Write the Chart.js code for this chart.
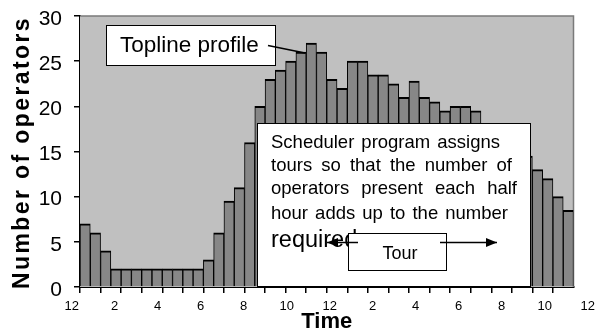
<!DOCTYPE html>
<html>
<head>
<meta charset="utf-8">
<script src="https://cdn.jsdelivr.net/npm/chart.js@4/dist/chart.umd.min.js"></script>
<style>
html,body{margin:0;padding:0;background:#fff;}
#wrap{width:596px;height:333px;position:relative;}
</style>
</head>
<body>
<div id="wrap"><canvas id="c" width="596" height="333"></canvas></div>
<script>
// Half-hour periods from 12 midnight to 12 midnight
const halfHours = [
 '12:00a','12:30a','1:00a','1:30a','2:00a','2:30a','3:00a','3:30a','4:00a','4:30a','5:00a','5:30a',
 '6:00a','6:30a','7:00a','7:30a','8:00a','8:30a','9:00a','9:30a','10:00a','10:30a','11:00a','11:30a',
 '12:00p','12:30p','1:00p','1:30p','2:00p','2:30p','3:00p','3:30p','4:00p','4:30p','5:00p','5:30p',
 '6:00p','6:30p','7:00p','7:30p','8:00p','8:30p','9:00p','9:30p','10:00p','10:30p','11:00p','11:30p'
];
// Number of operators required in each half hour
const operators = [
 7,6,4,2,2,2,2,2,2,2,2,2,
 3,6,9.5,11,16,20,23,24,25,26,27,26,
 23,22,25,25,23.5,23.5,22.5,21,22.8,21,20.5,19.5,
 20,20,19.5,18,17,16,15,14.5,13,12,10,8.5
];
// Time-axis labels (every two hours)
const hourLabels = ['12','2','4','6','8','10','12','2','4','6','8','10','12'];
const yTicks = [0,5,10,15,20,25,30];
const yTitle = 'Number of operators';

const FONT = "'Liberation Sans', Arial, Helvetica, sans-serif";

const bgPlugin = {
  id: 'plotBg',
  beforeDatasetsDraw(chart) {
    const {ctx, chartArea: a} = chart;
    ctx.save();
    ctx.fillStyle = '#c0c0c0';
    ctx.fillRect(a.left, a.top, a.right - a.left, a.bottom - a.top);
    ctx.strokeStyle = '#7a7a7a';
    ctx.lineWidth = 1.5;
    ctx.beginPath();
    ctx.moveTo(a.left, a.top);
    ctx.lineTo(a.right, a.top);
    ctx.lineTo(a.right, a.bottom);
    ctx.stroke();
    ctx.restore();
  }
};

function arrow(ctx, x1, y1, x2, y2) {
  ctx.beginPath();
  ctx.moveTo(x1, y1);
  ctx.lineTo(x2, y2);
  ctx.stroke();
  const dir = Math.sign(x2 - x1);
  ctx.beginPath();
  ctx.moveTo(x2, y2);
  ctx.lineTo(x2 - dir * 11, y2 - 4.5);
  ctx.lineTo(x2 - dir * 11, y2 + 4.5);
  ctx.closePath();
  ctx.fill();
}

function justified(ctx, text, x, y, width) {
  const words = text.split(/\s+/);
  const ws = words.map(w => ctx.measureText(w).width);
  const total = ws.reduce((s, v) => s + v, 0);
  const gap = (width - total) / (words.length - 1);
  let cx = x;
  words.forEach((w, i) => { ctx.fillText(w, cx, y); cx += ws[i] + gap; });
}

const annoPlugin = {
  id: 'annotations',
  afterDraw(chart) {
    const ctx = chart.ctx;
    const a = chart.chartArea;
    ctx.save();
    // Y-axis title (letter-spaced, as in the original)
    ctx.save();
    ctx.translate(23, (a.top + a.bottom) / 2 + 1);
    ctx.rotate(-Math.PI / 2);
    ctx.font = `bold 23px ${FONT}`;
    try { ctx.letterSpacing = '2.4px'; } catch (e) {}
    ctx.textAlign = 'center';
    ctx.textBaseline = 'middle';
    ctx.fillStyle = '#000';
    ctx.fillText(yTitle, 0, 0);
    ctx.restore();

    ctx.lineWidth = 1;
    ctx.strokeStyle = '#000';
    // Topline profile label
    ctx.fillStyle = '#fff';
    ctx.fillRect(106, 25, 170, 41);
    ctx.strokeRect(106.5, 25.5, 169, 40);
    ctx.fillStyle = '#000';
    ctx.font = `22.5px ${FONT}`;
    ctx.textBaseline = 'middle';
    ctx.textAlign = 'left';
    ctx.fillText('Topline profile', 120, 46);
    ctx.lineWidth = 1.5;
    ctx.beginPath();
    ctx.moveTo(268, 45.5);
    ctx.lineTo(305, 53);
    ctx.stroke();

    // Explanation box
    ctx.lineWidth = 1;
    ctx.fillStyle = '#fff';
    ctx.fillRect(257, 123, 274, 164);
    ctx.strokeRect(257.5, 123.5, 273, 163);
    ctx.fillStyle = '#000';
    ctx.font = `18.5px ${FONT}`;
    justified(ctx, 'Scheduler program assigns', 271, 142.5, 229);
    justified(ctx, 'tours so that the number of', 271, 165.5, 241);
    justified(ctx, 'operators present each half', 271, 188.5, 246);
    justified(ctx, 'hour adds up to the number', 271, 213.5, 237);
    ctx.font = `23.5px ${FONT}`;
    ctx.fillText('required', 271, 241);

    // Tour box
    ctx.fillStyle = '#fff';
    ctx.fillRect(348, 233, 99, 38);
    ctx.strokeRect(348.5, 233.5, 98, 37);
    ctx.fillStyle = '#000';
    ctx.font = `18px ${FONT}`;
    ctx.textAlign = 'center';
    ctx.fillText('Tour', 400, 254);

    // Tour arrows
    ctx.lineWidth = 1.5;
    arrow(ctx, 358, 242.5, 327, 242.5);
    arrow(ctx, 440, 242.5, 497, 242.5);
    ctx.restore();
  }
};

new Chart(document.getElementById('c'), {
  type: 'bar',
  data: {
    labels: halfHours,
    datasets: [{
      data: operators,
      backgroundColor: '#878787',
      borderColor: '#000',
      borderWidth: {top: 2, left: 1, right: 1, bottom: 0},
      borderSkipped: 'start',
      barPercentage: 1,
      categoryPercentage: 1,
      xAxisID: 'x',
      yAxisID: 'y'
    }]
  },
  options: {
    responsive: false,
    animation: false,
    events: [],
    layout: {padding: {left: 0, right: 22.5, top: 16, bottom: 0}},
    plugins: {legend: {display: false}, tooltip: {enabled: false}, title: {display: false}},
    scales: {
      x: {
        type: 'category',
        position: 'bottom',
        weight: 0,
        offset: true,
        grid: {
          offset: true,
          drawOnChartArea: false,
          drawTicks: true,
          tickLength: 6,
          lineWidth: 1.5,
          color: (c) => (c.index % 2 === 0 ? '#000' : 'rgba(0,0,0,0)')
        },
        border: {display: true, color: '#000', width: 2},
        ticks: {display: false},
        afterFit(s) { s.height = 6; s.paddingLeft = 0; s.paddingRight = 0; }
      },
      x2: {
        type: 'linear',
        position: 'bottom',
        weight: 1,
        offset: false,
        bounds: 'data',
        min: 0.193,
        max: 11.67,
        grid: {display: false, drawTicks: false, offset: false},
        border: {display: false},
        afterBuildTicks(s) {
          s.ticks = hourLabels.map((_, i) => ({value: i}));
          s.min = 0.193;
          s.max = 11.67;
        },
        ticks: {
          autoSkip: false,
          maxRotation: 0,
          padding: 6,
          color: '#000',
          font: {family: FONT, size: 13},
          callback: (v, i) => hourLabels[i]
        },
        title: {
          display: true,
          text: 'Time',
          color: '#000',
          font: {family: FONT, size: 22, weight: 'bold', lineHeight: 1},
          padding: {top: 0, bottom: 0}
        },
        afterFit(s) { s.height = 40; s.paddingLeft = 0; s.paddingRight = 0; }
      },
      y: {
        type: 'linear',
        min: 0,
        max: 30,
        afterBuildTicks(s) { s.ticks = yTicks.map(v => ({value: v})); },
        grid: {drawOnChartArea: false, drawTicks: true, tickLength: 6, color: '#000', lineWidth: 1.5},
        border: {display: true, color: '#000', width: 2},
        ticks: {
          color: '#000',
          padding: 12,
          labelOffset: 3,
          font: {family: FONT, size: 21}
        },
        title: {display: false},
        afterFit(s) { s.width = 80; s.paddingTop = 0; s.paddingBottom = 0; }
      }
    }
  },
  plugins: [bgPlugin, annoPlugin]
});
</script>
</body>
</html>
